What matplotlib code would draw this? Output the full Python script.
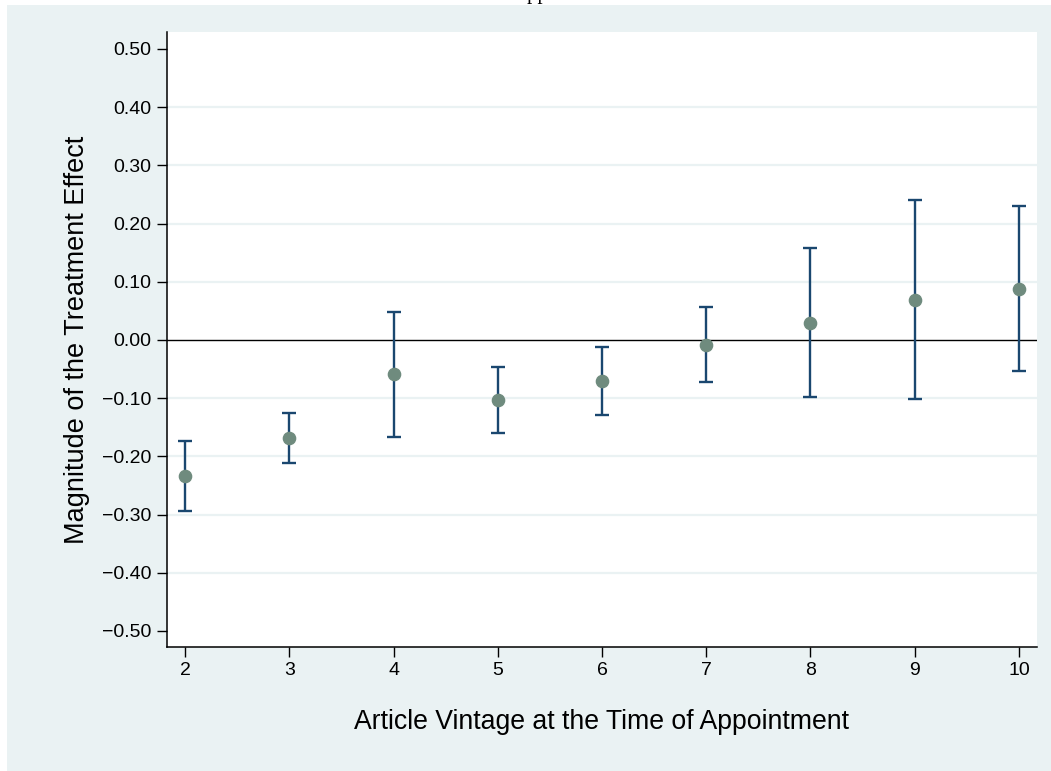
import matplotlib
matplotlib.use("Agg")
import matplotlib.pyplot as plt
from matplotlib.patches import Rectangle

# data
vintage = [2, 3, 4, 5, 6, 7, 8, 9, 10]
effect = [-0.234, -0.168, -0.058, -0.103, -0.070, -0.009, 0.030, 0.069, 0.088]
ci_low = [-0.293, -0.211, -0.167, -0.160, -0.129, -0.073, -0.098, -0.102, -0.054]
ci_high = [-0.174, -0.125, 0.048, -0.046, -0.012, 0.056, 0.158, 0.241, 0.230]
yticks = [-0.5, -0.4, -0.3, -0.2, -0.1, 0.0, 0.1, 0.2, 0.3, 0.4, 0.5]
gridlines = [-0.4, -0.3, -0.2, -0.1, 0.1, 0.2, 0.3, 0.4]

bg = '#EAF2F3'
navy = '#1A476F'
marker_col = '#6F8B7E'

plt.rcParams['font.family'] = ['Liberation Sans', 'DejaVu Sans']

W, H = 1051, 771
fig = plt.figure(figsize=(W / 100, H / 100), dpi=100, facecolor='white')
fig.patches.append(Rectangle((7 / W, 0), 1, (H - 5) / H, transform=fig.transFigure,
                             facecolor=bg, edgecolor='none', zorder=-10))

# clipped title remnant at the very top (cut off in the original too)
fig.text(513 / W, 1 + 1.0 / H, 'Appointment', family='Liberation Serif', fontsize=15,
         ha='left', va='baseline')

ax = fig.add_axes([167 / W, (H - 647) / H, 870 / W, 615 / H])
ax.set_facecolor('white')

for g in gridlines:
    ax.axhline(g, color=bg, lw=1.6, zorder=0)
ax.axhline(0, color='black', lw=1.0, zorder=1)

lower = [e - l for e, l in zip(effect, ci_low)]
upper = [h - e for e, h in zip(effect, ci_high)]
ax.errorbar(vintage, effect, yerr=[lower, upper], fmt='none', ecolor=navy,
            elinewidth=1.7, capsize=4.7, capthick=1.7, zorder=2)
ax.plot(vintage, effect, 'o', color=marker_col, markersize=8.8, zorder=3)

ax.set_xlim(1.8273, 10.1727)
ax.set_ylim(-0.5275, 0.5292)
ax.set_xticks(vintage)
ax.set_xticklabels([str(v) for v in vintage])
ax.set_yticks(yticks)
ax.set_yticklabels([f'{v:.2f}'.replace('-', '\u2212') for v in yticks])

for s in ['top', 'right']:
    ax.spines[s].set_visible(False)
for s in ['left', 'bottom']:
    ax.spines[s].set_linewidth(1.1)
ax.tick_params(axis='both', direction='out', length=7, width=1.0, labelsize=14, pad=4)

ax.set_xlabel('Article Vintage at the Time of Appointment', fontsize=19.2, va='center')
ax.xaxis.set_label_coords(0.5, -0.122)
ax.set_ylabel('Magnitude of the Treatment Effect', fontsize=19.5, labelpad=9)

fig.savefig('out.png', dpi=100, facecolor=fig.get_facecolor())
